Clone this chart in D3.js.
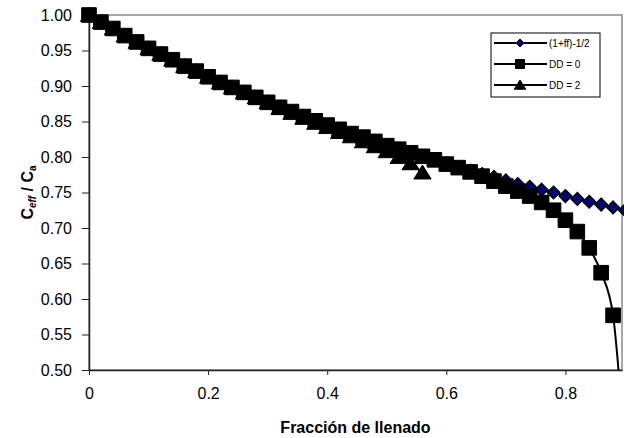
<!DOCTYPE html>
<html><head><meta charset="utf-8">
<script src="https://cdn.jsdelivr.net/npm/d3@7"></script>
<style>body{margin:0;background:#fff} svg{display:block;font-family:"Liberation Sans",Arial,sans-serif}</style>
</head><body><svg id="c" width="624" height="438"></svg>
<script>
// ---- data ----
const ffA = [0,0.02,0.04,0.06,0.08,0.1,0.12,0.14,0.16,0.18,0.2,0.22,0.24,0.26,0.28,0.3,0.32,0.34,0.36,0.38,0.4,0.42,0.44,0.46,0.48,0.5,0.52,0.54,0.56,0.58,0.6,0.62,0.64,0.66,0.68,0.7,0.72,0.74,0.76,0.78,0.8,0.82,0.84,0.86,0.88,0.9];
const invSqrt = [1.000,0.990,0.981,0.971,0.962,0.953,0.945,0.937,0.928,0.921,0.913,0.905,0.898,0.891,0.884,0.877,0.870,0.864,0.857,0.851,0.845,0.839,0.833,0.828,0.822,0.816,0.811,0.806,0.801,0.796,0.791,0.786,0.781,0.776,0.772,0.767,0.762,0.758,0.754,0.750,0.745,0.741,0.737,0.733,0.729,0.725];
const ffB = [0,0.02,0.04,0.06,0.08,0.1,0.12,0.14,0.16,0.18,0.2,0.22,0.24,0.26,0.28,0.3,0.32,0.34,0.36,0.38,0.4,0.42,0.44,0.46,0.48,0.5,0.52,0.54,0.56,0.58,0.6,0.62,0.64,0.66,0.68,0.7,0.72,0.74,0.76,0.78,0.8,0.82,0.84,0.86,0.88,0.9];
const dd0 = [1.000,0.990,0.981,0.971,0.962,0.953,0.945,0.937,0.928,0.921,0.913,0.905,0.898,0.891,0.884,0.877,0.870,0.864,0.857,0.851,0.845,0.839,0.833,0.828,0.822,0.816,0.811,0.806,0.801,0.796,0.790,0.785,0.779,0.773,0.766,0.759,0.752,0.745,0.736,0.725,0.711,0.695,0.672,0.637,0.577,0.380];
const ffC = [0,0.02,0.04,0.06,0.08,0.1,0.12,0.14,0.16,0.18,0.2,0.22,0.24,0.26,0.28,0.3,0.32,0.34,0.36,0.38,0.4,0.42,0.44,0.46,0.48,0.5,0.52,0.54,0.56];
const dd2 = [1.000,0.990,0.981,0.971,0.962,0.953,0.945,0.937,0.928,0.921,0.913,0.905,0.898,0.891,0.884,0.877,0.869,0.862,0.855,0.848,0.842,0.835,0.829,0.822,0.815,0.808,0.800,0.791,0.778];
const seriesNames = ["(1+ff)-1/2","DD = 0","DD = 2"];
const xTicks = [0,0.2,0.4,0.6,0.8];
const xTickLabels = ["0","0.2","0.4","0.6","0.8"];
const yTicks = [0.5,0.55,0.6,0.65,0.7,0.75,0.8,0.85,0.9,0.95,1.0];
const yTickLabels = ["0.50","0.55","0.60","0.65","0.70","0.75","0.80","0.85","0.90","0.95","1.00"];
const xTitle = "Fracción de llenado";

// ---- chart ----
const svg = d3.select("#c");
const x = d3.scaleLinear().domain([0,0.895]).range([89,622]);
const y = d3.scaleLinear().domain([0.5,1]).range([370,15]);
const [x0,x1] = x.range(), [y0,y1] = y.range();

svg.append("defs").append("clipPath").attr("id","pa").append("rect")
  .attr("x",x0).attr("y",y1).attr("width",x1-x0).attr("height",y0-y1);

// plot border (gray)
svg.append("rect").attr("x",x0).attr("y",y1).attr("width",x1-x0).attr("height",y0-y1)
  .attr("fill","none").attr("stroke","#8a8a8a").attr("stroke-width",1.5);

// axes
const gx = svg.append("g").attr("transform",`translate(0,${y0})`)
  .call(d3.axisBottom(x).tickValues(xTicks).tickFormat((d,i)=>xTickLabels[i]).tickSize(5).tickSizeOuter(0).tickPadding(13));
const gy = svg.append("g").attr("transform",`translate(${x0},0)`)
  .call(d3.axisLeft(y).tickValues(yTicks).tickFormat((d,i)=>yTickLabels[i]).tickSize(7).tickSizeOuter(0).tickPadding(10));
[gx,gy].forEach(g=>{
  g.attr("font-family",null).attr("font-size",null);
  g.select(".domain").attr("stroke","#222").attr("stroke-width",1.5);
  g.selectAll(".tick line").attr("stroke","#222").attr("stroke-width",1);
  g.selectAll(".tick text").attr("font-size",16).attr("fill","#000");
});

// titles
svg.append("text").attr("x",(x0+x1)/2).attr("y",433).attr("text-anchor","middle")
  .attr("font-weight","bold").attr("font-size",16).text(xTitle);
const yt = svg.append("text").attr("transform",`translate(33,${(y0+y1)/2}) rotate(-90)`)
  .attr("text-anchor","middle").attr("font-weight","bold").attr("font-size",16);
yt.append("tspan").text("C");
yt.append("tspan").attr("font-size",10).attr("font-style","italic").attr("dy",3).text("eff");
yt.append("tspan").attr("dy",-3).text(" / C");
yt.append("tspan").attr("font-size",10).attr("dy",3).text("a");

// marker shapes
const shapes = {
  diamond: r => `M0,${-r}L${r},0L0,${r}L${-r},0Z`,
  square: r => `M${-r},${-r}H${r}V${r}H${-r}Z`,
  triangle: r => `M0,${-r}L${r*1.15},${r*0.85}L${-r*1.15},${r*0.85}Z`
};
const series = [
  {name:seriesNames[0], xs:ffA, ys:invSqrt, shape:"diamond", r:6.2, fill:"#000080", sw:1.6},
  {name:seriesNames[1], xs:ffB, ys:dd0, shape:"square", r:7.3, fill:"#000", sw:1},
  {name:seriesNames[2], xs:ffC, ys:dd2, shape:"triangle", r:7.5, fill:"#000", sw:1}
];
const line = d3.line().x(d=>x(d[0])).y(d=>y(d[1])).curve(d3.curveMonotoneX);
series.forEach(s=>{
  const pts = s.xs.map((v,i)=>[v,s.ys[i]]);
  const g = svg.append("g");
  g.append("path").attr("d",line(pts)).attr("fill","none").attr("stroke","#000")
    .attr("stroke-width",2).attr("clip-path","url(#pa)");
  g.selectAll("path.m").data(pts.filter(p=>p[1]>=y.domain()[0])).join("path").attr("class","m")
    .attr("transform",p=>`translate(${x(p[0])},${y(p[1])})`)
    .attr("d",shapes[s.shape](s.r)).attr("fill",s.fill).attr("stroke","#000").attr("stroke-width",s.sw);
});

// legend
const lg = svg.append("g");
lg.append("rect").attr("x",491).attr("y",33).attr("width",109).attr("height",64)
  .attr("fill","#fff").attr("stroke","#000").attr("stroke-width",1);
const legR = [4,4.5,5];
series.forEach((s,i)=>{
  const yy = 43 + i*21;
  lg.append("line").attr("x1",494).attr("x2",547).attr("y1",yy).attr("y2",yy).attr("stroke","#000").attr("stroke-width",2);
  lg.append("path").attr("transform",`translate(520,${yy})`).attr("d",shapes[s.shape](legR[i]))
    .attr("fill",s.fill).attr("stroke","#000").attr("stroke-width",1);
  lg.append("text").attr("x",549).attr("y",yy+3.5).attr("font-size",10).text(s.name);
});
</script></body></html>
